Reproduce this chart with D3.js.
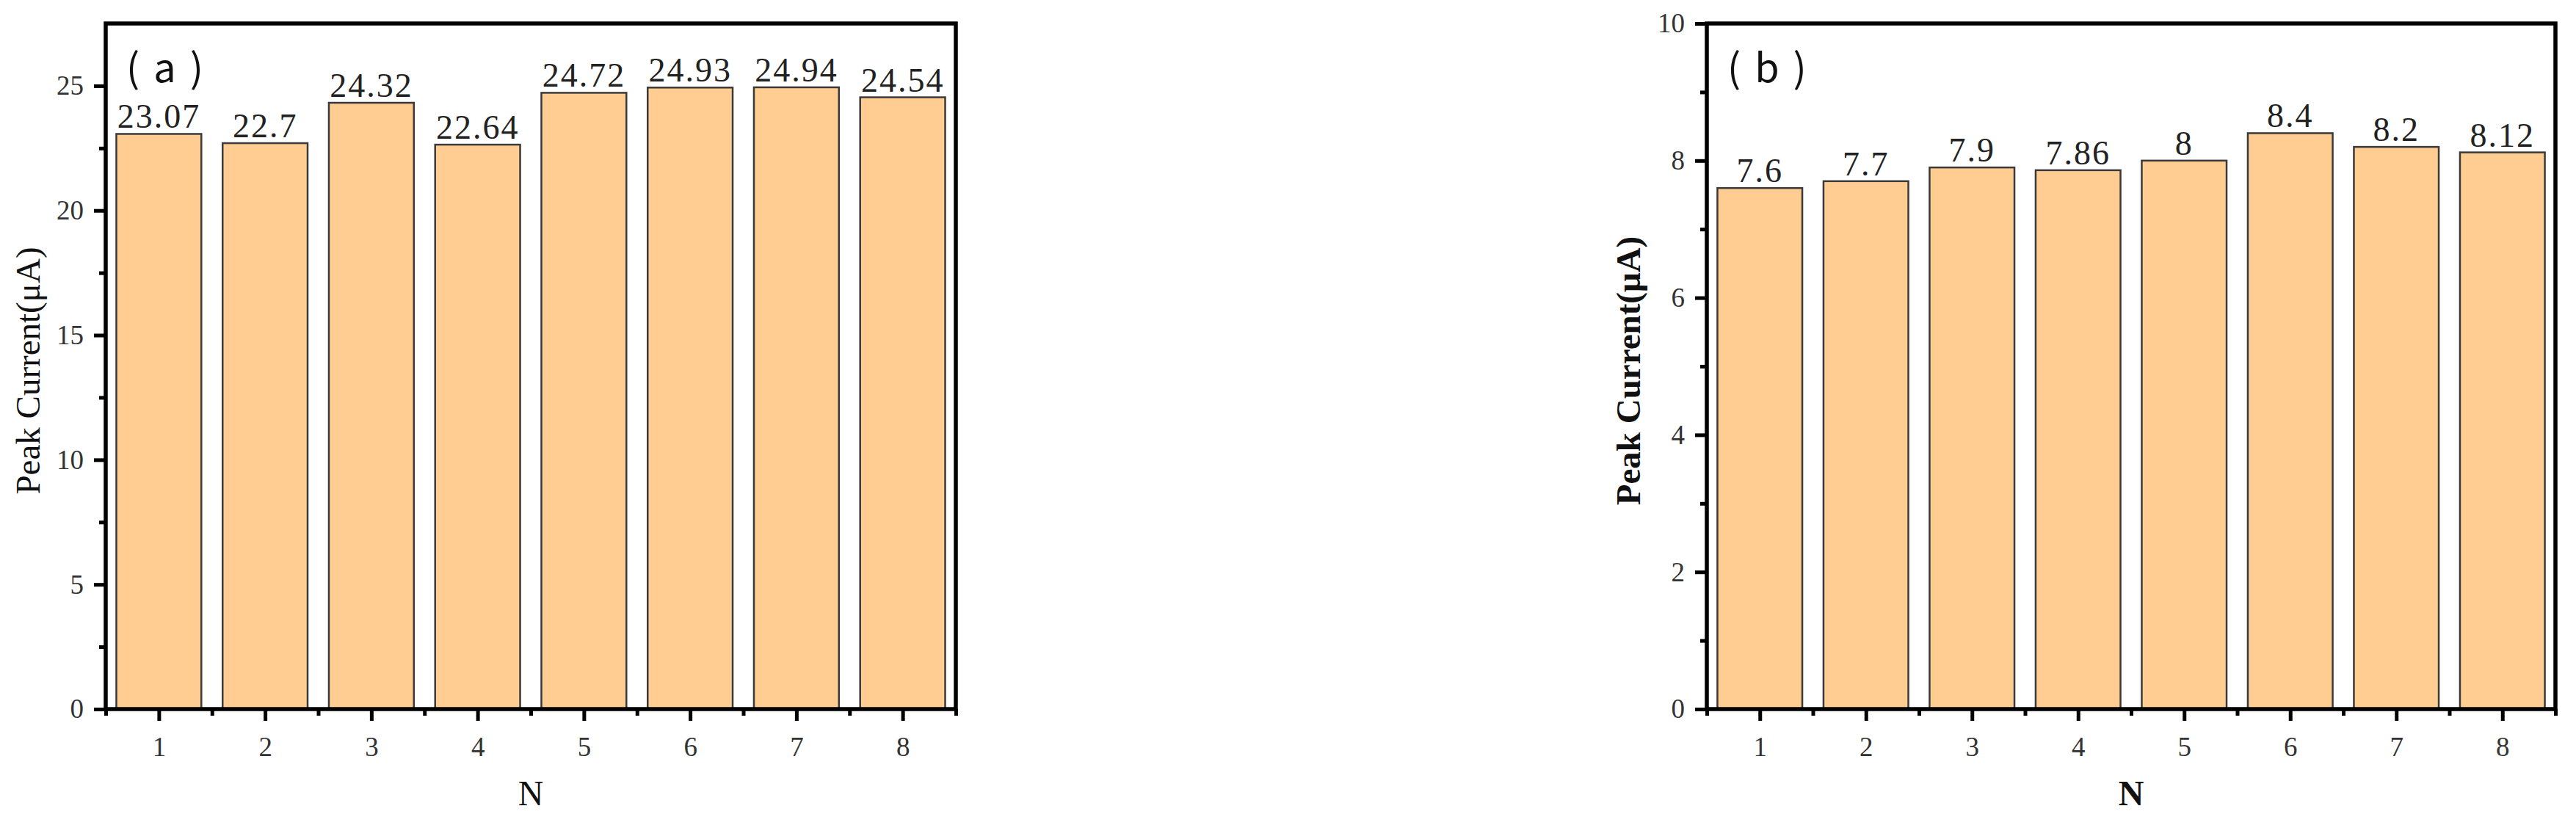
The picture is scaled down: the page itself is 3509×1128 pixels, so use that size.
<!DOCTYPE html>
<html><head><meta charset="utf-8">
<script src="https://cdn.jsdelivr.net/npm/d3@7"></script>
<style>body{margin:0;background:#fff} text{font-family:'Liberation Serif','Times New Roman',serif}</style></head>
<body>
<svg id="c" width="3509" height="1128" xmlns="http://www.w3.org/2000/svg"></svg>
<script>
const categories = [1, 2, 3, 4, 5, 6, 7, 8];
const valuesA = [23.07, 22.7, 24.32, 22.64, 24.72, 24.93, 24.94, 24.54];
const valuesB = [7.6, 7.7, 7.9, 7.86, 8, 8.4, 8.2, 8.12];
const labelsA = ["23.07", "22.7", "24.32", "22.64", "24.72", "24.93", "24.94", "24.54"];
const labelsB = ["7.6", "7.7", "7.9", "7.86", "8", "8.4", "8.2", "8.12"];
const ticksA = [0, 5, 10, 15, 20, 25];
const minorA = [2.5, 7.5, 12.5, 17.5, 22.5];
const ticksB = [0, 2, 4, 6, 8, 10];
const minorB = [1, 3, 5, 7, 9];
const xMinor = [0.5, 1.5, 2.5, 3.5, 4.5, 5.5, 6.5, 7.5, 8.5];
const yTitle = "Peak Current(μA)";
const xTitle = "N";

const svg = d3.select("#c");
svg.append("rect").attr("width", 3509).attr("height", 1128).attr("fill", "#fff");

const SERIF = "'Liberation Serif','Times New Roman',serif";

function panel(opt) {
  const g = svg.append("g");
  const x = d3.scaleLinear().domain([0.5, 8.5]).range([opt.left, opt.right]);
  const y = d3.scaleLinear().domain([0, opt.yMax]).range([opt.bottom, opt.top]);
  const bw = x(1.4) - x(0.6);

  g.selectAll("rect.bar").data(opt.values).join("rect")
    .attr("class", "bar")
    .attr("x", (d, i) => x(categories[i] - 0.4))
    .attr("y", d => y(d))
    .attr("width", bw)
    .attr("height", d => y(0) - y(d))
    .attr("fill", "#FFCD92")
    .attr("stroke", "#3a3a3a")
    .attr("stroke-width", 2.5);

  g.selectAll("text.val").data(opt.values).join("text")
    .attr("class", "val")
    .attr("x", (d, i) => x(categories[i]))
    .attr("y", d => y(d) - 8)
    .attr("text-anchor", "middle")
    .style("font-family", SERIF)
    .style("font-size", "46px")
    .style("letter-spacing", "2px")
    .attr("fill", "#222")
    .text((d, i) => opt.labels[i]);

  const xa = g.append("g").attr("transform", `translate(0,${opt.bottom})`)
    .call(d3.axisBottom(x).tickValues(categories).tickSize(16).tickPadding(22).tickFormat(d3.format("d")));
  const xm = g.append("g").attr("transform", `translate(0,${opt.bottom})`)
    .call(d3.axisBottom(x).tickValues(xMinor).tickSize(9).tickFormat(""));
  const ya = g.append("g").attr("transform", `translate(${opt.left},0)`)
    .call(d3.axisLeft(y).tickValues(opt.ticks).tickSize(16).tickPadding(14).tickFormat(d3.format("d")));
  const ym = g.append("g").attr("transform", `translate(${opt.left},0)`)
    .call(d3.axisLeft(y).tickValues(opt.minor).tickSize(9).tickFormat(""));
  [xa, xm, ya, ym].forEach(a => {
    a.select(".domain").remove();
    a.selectAll(".tick line").attr("stroke", "#000").attr("stroke-width", 5);
    a.selectAll(".tick text").style("font-family", SERIF).style("font-size", "37px").attr("fill", "#333");
  });

  g.append("rect")
    .attr("x", opt.left).attr("y", opt.top)
    .attr("width", opt.right - opt.left).attr("height", opt.bottom - opt.top)
    .attr("fill", "none").attr("stroke", "#000").attr("stroke-width", 5.5);

  g.append("text")
    .attr("x", opt.left + 28).attr("y", opt.top + 56)
    .attr("dominant-baseline", "central")
    .style("font-family", "'Noto Sans CJK SC','Noto Sans',sans-serif")
    .style("font-size", "54px")
    .style("letter-spacing", "19px")
    .attr("fill", "#111")
    .text(opt.tag);

  g.append("text")
    .attr("transform", `translate(${opt.yTitleX},${(opt.top + opt.bottom) / 2 + 6}) rotate(-90)`)
    .attr("text-anchor", "middle")
    .attr("dominant-baseline", "central")
    .style("font-family", SERIF)
    .style("font-size", "47px")
    .style("font-weight", opt.bold ? "bold" : "normal")
    .attr("fill", "#111")
    .text(yTitle);
  g.append("text")
    .attr("x", (opt.left + opt.right) / 2).attr("y", 1097)
    .attr("text-anchor", "middle")
    .style("font-family", SERIF)
    .style("font-size", "48px")
    .style("font-weight", opt.bold ? "bold" : "normal")
    .attr("fill", "#111")
    .text(xTitle);
}

panel({left: 144, right: 1302, top: 32, bottom: 966, yMax: 27.5, ticks: ticksA, minor: minorA,
       values: valuesA, labels: labelsA, tag: "(a)", bold: false, yTitleX: 38});
panel({left: 2325, right: 3481, top: 32, bottom: 966, yMax: 10, ticks: ticksB, minor: minorB,
       values: valuesB, labels: labelsB, tag: "(b)", bold: true, yTitleX: 2218});
</script>
</body></html>
